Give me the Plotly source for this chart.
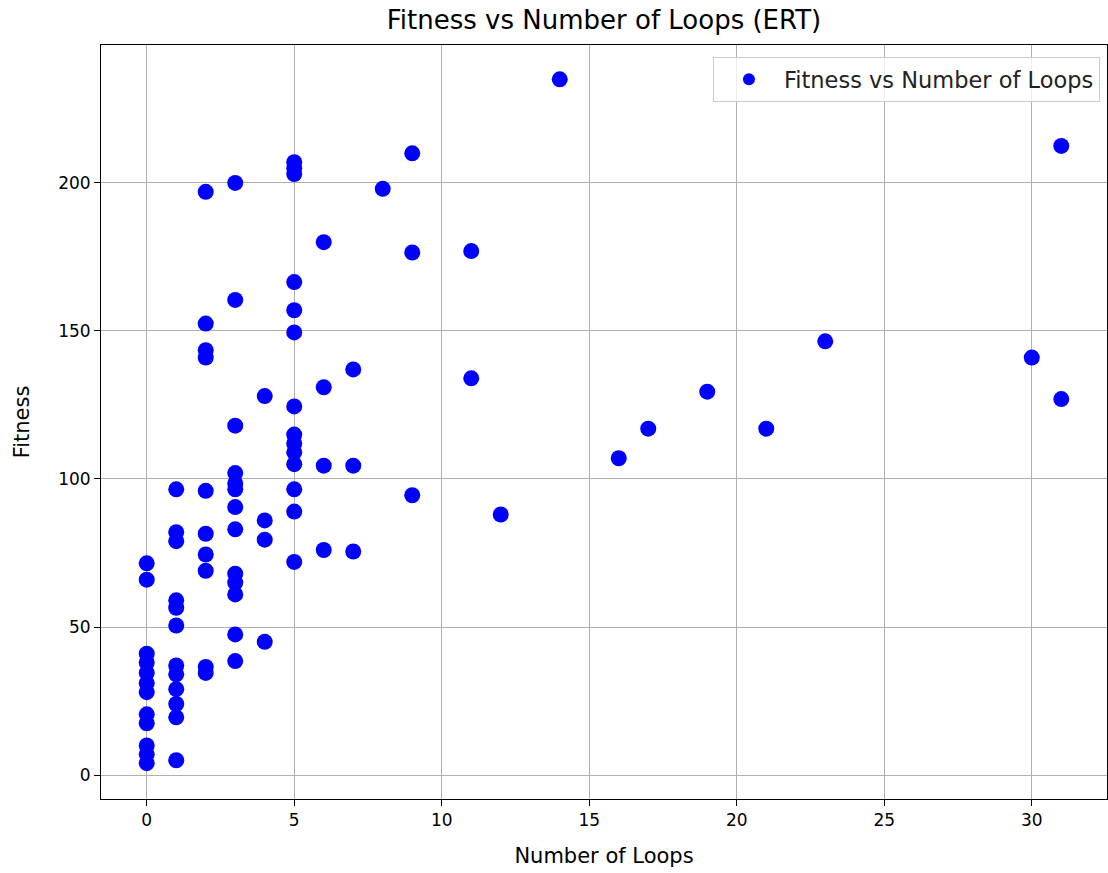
import plotly.graph_objects as go

loops = (
    [0] * 12
    + [1] * 12
    + [2] * 10
    + [3] * 13
    + [4] * 4
    + [5] * 14
    + [6] * 4
    + [7] * 3
    + [8]
    + [9] * 3
    + [11] * 2
    + [12, 14, 16, 17, 19, 21, 23, 30, 31, 31]
)
fitness = (
    [71.5, 66, 41, 38, 34.5, 31, 28, 20.5, 17.5, 10, 7, 4]
    + [96.5, 82, 79, 59, 56.5, 50.5, 37, 34, 29, 24, 19.5, 5]
    + [197, 152.5, 143.5, 141, 96, 81.5, 74.5, 69, 36.5, 34.5]
    + [200, 160.5, 118, 102, 98.5, 96.5, 90.5, 83, 68, 65, 61, 47.5, 38.5]
    + [128, 86, 79.5, 45]
    + [207, 205, 203, 166.5, 157, 149.5, 124.5, 115, 112, 109, 105, 96.5, 89, 72]
    + [180, 131, 104.5, 76]
    + [137, 104.5, 75.5]
    + [198]
    + [210, 176.5, 94.5]
    + [177, 134]
    + [88, 235, 107, 117, 129.5, 117, 146.5, 141, 212.5, 127]
)

x_ticks = [0, 5, 10, 15, 20, 25, 30]
y_ticks = [0, 50, 100, 150, 200]

fig = go.Figure()
fig.add_trace(go.Scatter(
    x=loops, y=fitness, mode="markers",
    name="Fitness vs Number of Loops",
    marker=dict(color="blue", size=16, line=dict(width=0)),
))

axis_common = dict(
    showgrid=True, gridcolor="#b0b0b0", gridwidth=1,
    showline=True, linecolor="black", linewidth=1, mirror=True,
    ticks="outside", ticklen=6, tickcolor="black", tickwidth=1,
    zeroline=False,
    tickfont=dict(family="DejaVu Sans", size=17, color="black"),
)

fig.update_layout(
    width=1108, height=873,
    margin=dict(l=101, r=1, t=45, b=74),
    paper_bgcolor="white", plot_bgcolor="white",
    title=dict(text="Fitness vs Number of Loops (ERT)", x=(101 + 1107) / 2 / 1108,
               xanchor="center", y=1 - 20 / 873, yanchor="middle",
               font=dict(family="DejaVu Sans", size=26, color="black")),
    xaxis=dict(range=[-1.55, 32.55], tickvals=x_ticks,
               title=dict(text="Number of Loops", font=dict(family="DejaVu Sans", size=21, color="black"), standoff=18),
               **axis_common),
    yaxis=dict(range=[-8.1, 246.6], tickvals=y_ticks,
               title=dict(text="Fitness", font=dict(family="DejaVu Sans", size=21, color="black"), standoff=22),
               **axis_common),
    showlegend=True,
    legend=dict(x=0.993, y=0.984, xanchor="right", yanchor="top",
                bgcolor="rgba(255,255,255,0.8)", bordercolor="#cccccc", borderwidth=1,
                font=dict(family="DejaVu Sans", size=22.5, color="#222222"),
                itemsizing="constant", itemwidth=60),
)

fig.write_html("out.html")
